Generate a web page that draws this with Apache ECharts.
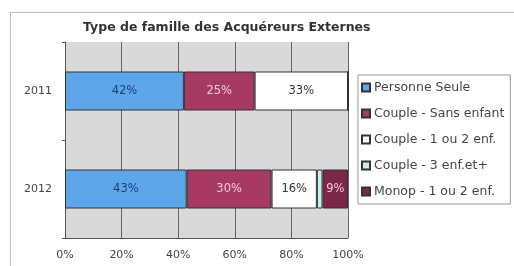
<!DOCTYPE html>
<html>
<head>
<meta charset="utf-8">
<script src="https://cdn.jsdelivr.net/npm/echarts@6/dist/echarts.min.js"></script>
<style>
html,body{margin:0;background:#fff;overflow:hidden;width:514px;height:266px;}
#frame{position:absolute;left:10px;top:12px;width:504px;height:254px;border-left:1px solid #bbb;border-top:1px solid #bbb;box-sizing:border-box;}
#chart{position:absolute;left:0;top:0;width:514px;height:266px;}
</style>
</head>
<body>
<div id="frame"></div>
<div id="chart"></div>
<script>
var years = ['2011','2012'];
var seriesNames = ['Personne Seule','Couple - Sans enfant','Couple - 1 ou 2 enf.','Couple - 3 enf.et+','Monop - 1 ou 2 enf.'];
var personneSeule = [42, 43];
var coupleSans = [25, 30];
var couple12 = [33, 16];
var couple3 = [0, 2];
var monop = [0, 9];
var xTicks = [0, 20, 40, 60, 80, 100];

var COLOR = ['#5ea6ea','#a63a62','#ffffff','#c8eef0','#7c2648'];
var LABEL_COLOR = ['#1d3f73','#f3c9d8','#333333','#333333','#f3c9d8'];
var FONT = 'DejaVu Sans';

var values = [personneSeule, coupleSans, couple12, couple3, monop];
var series = [];
for(var i = 0; i < values.length; i++){
	series.push({
		name: seriesNames[i],
		type: 'bar',
		stack: 'total',
		barWidth: 39,
		data: values[i],
		itemStyle: {color: COLOR[i], borderColor: '#333', borderWidth: 1},
		label: {
			show: true,
			color: LABEL_COLOR[i],
			fontSize: 11.5,
			fontFamily: FONT,
			formatter: function(p){ return p.value > 3 ? p.value + '%' : ''; }
		}
	});
}

var myChart = echarts.init(document.getElementById('chart'));
myChart.setOption({
	animation: false,
	title: {
		text: 'Type de famille des Acquéreurs Externes',
		left: 78,
		top: 16,
		textStyle: {fontSize: 12.5, fontWeight: 'bold', color: '#333', fontFamily: FONT}
	},
	legend: {
		orient: 'vertical',
		left: 358,
		top: 75,
		padding: [6, 6, 6, 3],
		itemWidth: 8,
		itemHeight: 8,
		itemGap: 13,
		borderColor: '#999',
		borderWidth: 1,
		icon: 'rect',
		textStyle: {fontSize: 12.5, color: '#444', fontFamily: FONT, padding: [0, 0, 0, -1]},
		data: seriesNames
	},
	grid: {
		left: 65,
		right: 166,
		top: 42,
		bottom: 28,
		show: true,
		backgroundColor: '#d9d9d9',
		borderWidth: 0
	},
	xAxis: {
		type: 'value',
		min: 0,
		max: 100,
		interval: 20,
		axisLine: {show: true, lineStyle: {color: '#555'}},
		axisTick: {show: false},
		splitLine: {show: true, lineStyle: {color: '#666', width: 1}},
		axisLabel: {
			color: '#444',
			fontSize: 11,
			fontFamily: FONT,
			margin: 12,
			formatter: function(v){ return xTicks.indexOf(v) >= 0 ? v + '%' : ''; }
		}
	},
	yAxis: {
		type: 'category',
		inverse: true,
		data: years,
		axisLine: {show: true, lineStyle: {color: '#555'}},
		axisTick: {show: true, length: 3, lineStyle: {color: '#555'}},
		axisLabel: {color: '#444', fontSize: 11, fontFamily: FONT, margin: 13, padding: [4, 0, 0, 0]}
	},
	series: series
});
</script>
</body>
</html>
